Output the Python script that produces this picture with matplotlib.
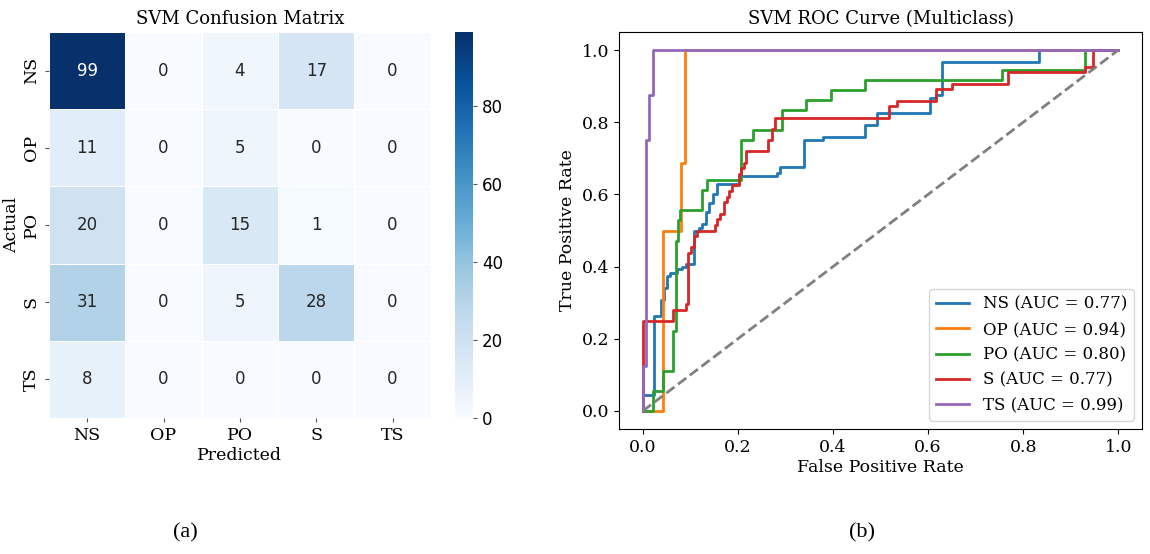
import numpy as np
import matplotlib
matplotlib.use("Agg")
import matplotlib.pyplot as plt
import seaborn as sns

plt.rcParams['font.family'] = 'DejaVu Serif'
plt.rcParams['font.size'] = 12

classes = ['NS', 'OP', 'PO', 'S', 'TS']

# confusion matrix (rows = actual, cols = predicted)
cm = np.array([
    [99, 0, 4, 17, 0],
    [11, 0, 5, 0, 0],
    [20, 0, 15, 1, 0],
    [31, 0, 5, 28, 0],
    [8, 0, 0, 0, 0],
])

# ROC curve vertices per class
fpr_ns = [0, 0, 0.024, 0.024, 0.038, 0.038, 0.045, 0.045, 0.050, 0.050, 0.058, 0.058,
          0.072, 0.072, 0.082, 0.082, 0.090, 0.090, 0.107, 0.107, 0.118, 0.118, 0.125,
          0.125, 0.133, 0.133, 0.140, 0.140, 0.148, 0.148, 0.155, 0.155, 0.202, 0.202,
          0.283, 0.283, 0.289, 0.289, 0.339, 0.339, 0.380, 0.380, 0.467, 0.467, 0.493,
          0.493, 0.604, 0.604, 0.617, 0.617, 0.629, 0.629, 0.833, 0.833, 1.0]
tpr_ns = [0, 0.044, 0.044, 0.262, 0.262, 0.308, 0.308, 0.341, 0.341, 0.375, 0.375, 0.383,
          0.383, 0.392, 0.392, 0.400, 0.400, 0.408, 0.408, 0.500, 0.500, 0.508, 0.508,
          0.517, 0.517, 0.550, 0.550, 0.575, 0.575, 0.600, 0.600, 0.628, 0.628, 0.650,
          0.650, 0.658, 0.658, 0.675, 0.675, 0.750, 0.750, 0.758, 0.758, 0.792, 0.792,
          0.825, 0.825, 0.867, 0.867, 0.875, 0.875, 0.967, 0.967, 1.0, 1.0]

fpr_op = [0, 0.042, 0.042, 0.080, 0.080, 0.088, 0.088, 1.0]
tpr_op = [0, 0, 0.5, 0.5, 0.6875, 0.6875, 1.0, 1.0]

fpr_po = [0, 0.021, 0.021, 0.043, 0.043, 0.064, 0.064, 0.069, 0.069, 0.074, 0.074, 0.079,
          0.079, 0.125, 0.125, 0.136, 0.136, 0.207, 0.207, 0.232, 0.232, 0.293, 0.293,
          0.343, 0.343, 0.396, 0.396, 0.467, 0.467, 0.756, 0.756, 0.930, 0.930, 1.0]
tpr_po = [0, 0, 0.056, 0.056, 0.111, 0.111, 0.222, 0.222, 0.472, 0.472, 0.528, 0.528,
          0.556, 0.556, 0.611, 0.611, 0.639, 0.639, 0.750, 0.750, 0.778, 0.778, 0.833,
          0.833, 0.861, 0.861, 0.889, 0.889, 0.917, 0.917, 0.944, 0.944, 1.0, 1.0]

fpr_s = [0, 0, 0.063, 0.063, 0.090, 0.090, 0.095, 0.095, 0.101, 0.101, 0.107, 0.107, 0.113,
         0.113, 0.151, 0.151, 0.157, 0.157, 0.163, 0.163, 0.170, 0.170, 0.176, 0.176, 0.182,
         0.182, 0.188, 0.188, 0.202, 0.202, 0.206, 0.206, 0.212, 0.212, 0.218, 0.218, 0.263,
         0.263, 0.272, 0.272, 0.277, 0.277, 0.518, 0.518, 0.534, 0.534, 0.617, 0.617, 0.650,
         0.650, 0.769, 0.769, 0.929, 0.929, 0.946, 0.946, 1.0]
tpr_s = [0, 0.25, 0.25, 0.281, 0.281, 0.297, 0.297, 0.4375, 0.4375, 0.453, 0.453, 0.484,
         0.484, 0.5, 0.5, 0.516, 0.516, 0.531, 0.531, 0.547, 0.547, 0.578, 0.578, 0.594,
         0.594, 0.609, 0.609, 0.625, 0.625, 0.656, 0.656, 0.672, 0.672, 0.688, 0.688, 0.719,
         0.719, 0.750, 0.750, 0.781, 0.781, 0.813, 0.813, 0.844, 0.844, 0.859, 0.859, 0.891,
         0.891, 0.906, 0.906, 0.938, 0.938, 0.953, 0.953, 1.0, 1.0]

fpr_ts = [0, 0, 0.0064, 0.0064, 0.0127, 0.0127, 0.021, 0.021, 1.0]
tpr_ts = [0, 0.125, 0.125, 0.75, 0.75, 0.875, 0.875, 1.0, 1.0]

aucs = [0.77, 0.94, 0.80, 0.77, 0.99]
roc_fpr = [fpr_ns, fpr_op, fpr_po, fpr_s, fpr_ts]
roc_tpr = [tpr_ns, tpr_op, tpr_po, tpr_s, tpr_ts]

fig = plt.figure(figsize=(11.5, 5.54), dpi=100)

# --- confusion matrix ---
ax1 = fig.add_axes([0.0426, 0.2455, 0.332, 0.6968])
cax = fig.add_axes([0.3957, 0.2455, 0.0154, 0.6968])
sns.heatmap(cm, annot=True, fmt='d', cmap='Blues', ax=ax1, cbar_ax=cax,
            xticklabels=classes, yticklabels=classes,
            linewidths=0.5, linecolor='white',
            annot_kws={'family': 'DejaVu Sans', 'size': 12})
ax1.set_title('SVM Confusion Matrix', fontsize=13)
ax1.set_xlabel('Predicted', fontsize=12.5, labelpad=2)
ax1.set_ylabel('Actual', fontsize=12.5, labelpad=2)
ax1.tick_params(axis='both', labelsize=12.5, length=3, color='#555555')
plt.setp(ax1.get_yticklabels(), rotation=90, va='center')
plt.setp(ax1.get_xticklabels(), rotation=0)
cax.tick_params(labelsize=12, length=3, color='#555555')
for t in cax.get_yticklabels():
    t.set_family('DejaVu Sans')

# --- ROC curves ---
ax2 = fig.add_axes([0.5383, 0.2256, 0.4548, 0.7166])
for name, fx, ty, auc in zip(classes, roc_fpr, roc_tpr, aucs):
    ax2.plot(fx, ty, lw=2, label=f'{name} (AUC = {auc:.2f})')
ax2.plot([0, 1], [0, 1], '--', color='gray', lw=2)
ax2.set_title('SVM ROC Curve (Multiclass)', fontsize=13)
ax2.set_xlabel('False Positive Rate', fontsize=12.5, labelpad=2)
ax2.set_ylabel('True Positive Rate', fontsize=12.5)
ax2.set_xticks([0, 0.2, 0.4, 0.6, 0.8, 1.0])
ax2.set_yticks([0, 0.2, 0.4, 0.6, 0.8, 1.0])
ax2.tick_params(labelsize=12.5)
ax2.legend(loc='lower right', fontsize=12)

fig.text(0.161, 0.03, '(a)', family='Liberation Serif', fontsize=16, ha='center')
fig.text(0.750, 0.03, '(b)', family='Liberation Serif', fontsize=16, ha='center')

fig.savefig('out.png', dpi=100)
